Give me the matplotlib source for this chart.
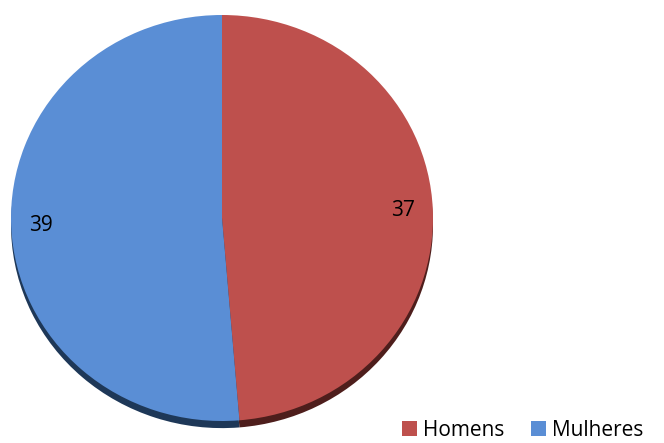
import matplotlib.pyplot as plt
from matplotlib.patches import Patch

labels = ['Homens', 'Mulheres']
values = [37, 39]
colors = ['#BE504D', '#5A8ED5']
shadow_colors = ['#4E1E1C', '#1E3858']

plt.rcParams['font.family'] = ['Open Sans', 'DejaVu Sans']

fig = plt.figure(figsize=(6.64, 4.43), dpi=100)
# pie face spans roughly x 11..433, y 15..421 px (slightly squashed, 3D look)
ax = fig.add_axes([11 / 664, 22 / 443, 422 / 664, 406 / 443])
ax.axis('off')

# dark rim under the pie
sh, _ = ax.pie(values, colors=shadow_colors, startangle=90, counterclock=False,
               center=(0, -0.035), radius=1.0, frame=False)
for w in sh:
    w.set_clip_on(False)
    w.set_zorder(1)

wedges, _, autotexts = ax.pie(values, colors=colors, startangle=90, counterclock=False,
                              autopct=lambda p: '%d' % round(p * sum(values) / 100),
                              pctdistance=0.86, frame=False,
                              textprops={'fontsize': 15, 'color': '#000000'})
for w in wedges:
    w.set_clip_on(False)
    w.set_zorder(2)
for t in autotexts:
    t.set_zorder(3)
ax.set_xlim(-1, 1)
ax.set_ylim(-1, 1)
ax.set_aspect('auto')

handles = [Patch(facecolor=c, edgecolor='none') for c in colors]
fig.legend(handles, labels, loc='lower left', bbox_to_anchor=(400 / 664, 0.0),
           ncol=2, frameon=False, fontsize=15, handlelength=0.7, handleheight=0.7,
           handletextpad=0.3, columnspacing=1.3, borderaxespad=0, borderpad=0.1)

fig.savefig('out.png', dpi=100)
